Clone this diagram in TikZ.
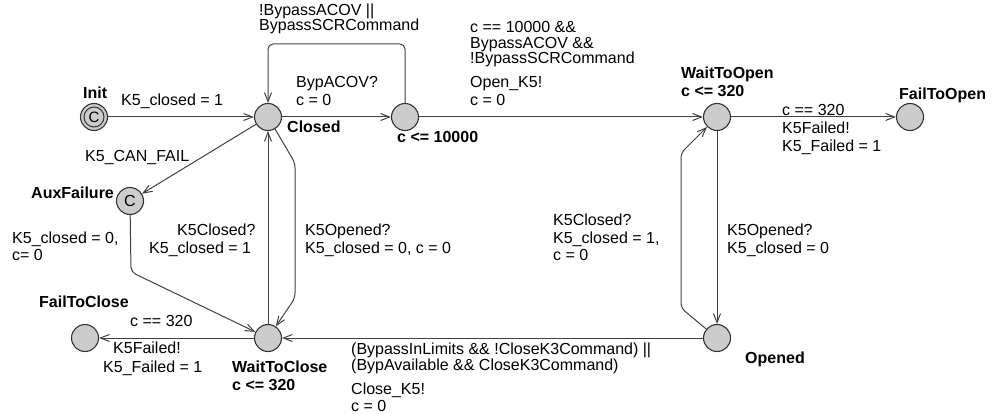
\documentclass[tikz,border=0pt]{standalone}
\usepackage{fontspec}
\setmainfont{Liberation Sans}
\usetikzlibrary{arrows.meta}
\begin{document}
\begin{tikzpicture}[x=1pt,y=-1pt,
  st/.style={circle,draw=black!80,fill=black!20,line width=1.1pt,minimum size=27pt,inner sep=0pt},
  ring/.style={circle,draw=black!80,line width=1pt,minimum size=20pt,inner sep=0pt},
  edge/.style={draw=black!75,line width=1pt,-{Straight Barb[length=9pt,width=7pt]},rounded corners=5pt},
  lbl/.style={anchor=base west,inner sep=0pt,font=\fontsize{16}{15}\selectfont},
  nm/.style={anchor=base west,inner sep=0pt,font=\fontsize{16}{15}\selectfont\bfseries}]
\useasboundingbox (0,0) rectangle (992,414);

% locations
\node[st] (Init) at (94,117) {};
\node[ring,font=\fontsize{15}{15}\selectfont] (InitIn) at (Init) {C};
\node[st] (Closed) at (268,117) {};
\node[st] (Br) at (405,117) {};
\node[st] (WTO) at (717,117) {};
\node[st] (FTO) at (910,117) {};
\node[st,font=\fontsize{16}{16}\selectfont] (Aux) at (130,201) {C};
\node[st] (WTC) at (268,338) {};
\node[st] (FTC) at (85,338) {};
\node[st] (Opened) at (717,338) {};

% bend points
\coordinate (lr) at (405,44);
\coordinate (ll) at (268,44);
\coordinate (c1) at (295,163);
\coordinate (c2) at (295,298);
\coordinate (a1) at (131,272);
\coordinate (o1) at (681,308);
\coordinate (o2) at (681,153);

% edges
\draw[edge] (Init) -- (Closed);
\draw[edge] (Closed) -- (Br);
\draw[edge] (Br) -- (WTO);
\draw[edge] (WTO) -- (FTO);
\draw[edge] (Closed) -- (Aux);
\draw[edge] (Br) -- (lr) -- (ll) -- (Closed);
\draw[edge] (WTC) -- (Closed);
\draw[edge] (Closed) -- (c1) -- (c2) -- (WTC);
\draw[edge] (Aux) -- (a1) -- (WTC);
\draw[edge] (WTC) -- (FTC);
\draw[edge] (Opened) -- (WTC);
\draw[edge] (WTO) -- (Opened);
\draw[edge] (Opened) -- (o1) -- (o2) -- (WTO);

% location names and invariants
\node[nm] (nInit) at (83,99) {Init};
\node[nm] (nClosed) at (287,133) {Closed};
\node[nm] (nBr) at (397,143) {c <= 10000};
\node[nm] (nWTO) at (681,79) {WaitToOpen};
\node[nm] (iWTO) at (681,97) {c <= 320};
\node[nm] (nFTO) at (899,100) {FailToOpen};
\node[nm] (nAux) at (31,198) {AuxFailure};
\node[nm] (nFTC) at (39,307) {FailToClose};
\node[nm] (nWTC) at (232,372) {WaitToClose};
\node[nm] (iWTC) at (232,390) {c <= 320};
\node[nm] (nOpened) at (745,363) {Opened};

% edge labels
\node[lbl] (l1) at (121,106) {K5\_closed = 1};
\node[lbl] (l2) at (259,16) {!BypassACOV ||};
\node[lbl] (l3) at (259,31) {BypassSCRCommand};
\node[lbl] (l4) at (296,88) {BypACOV?};
\node[lbl] (l5) at (296,106) {c = 0};
\node[lbl] (l6) at (470,33) {c == 10000 \&\&};
\node[lbl] (l7) at (470,48.5) {BypassACOV \&\&};
\node[lbl] (l8) at (470,64) {!BypassSCRCommand};
\node[lbl] (l9) at (470,88) {Open\_K5!};
\node[lbl] (l10) at (470,106) {c = 0};
\node[lbl] (l11) at (782,116) {c == 320};
\node[lbl] (l12) at (782,134) {K5Failed!};
\node[lbl] (l13) at (782,152) {K5\_Failed = 1};
\node[lbl] (l14) at (85,161) {K5\_CAN\_FAIL};
\node[lbl] (l15) at (12,243) {K5\_closed = 0,};
\node[lbl] (l16) at (12,260) {c= 0};
\node[lbl] (l17) at (177,235) {K5Closed?};
\node[lbl] (l18) at (149,253) {K5\_closed = 1};
\node[lbl] (l19) at (305,235) {K5Opened?};
\node[lbl] (l20) at (305,253) {K5\_closed = 0, c = 0};
\node[lbl] (l21) at (553,225) {K5Closed?};
\node[lbl] (l22) at (553,243) {K5\_closed = 1,};
\node[lbl] (l23) at (553,260) {c = 0};
\node[lbl] (l24) at (727,235) {K5Opened?};
\node[lbl] (l25) at (727,253) {K5\_closed = 0};
\node[lbl] (l26) at (130,326) {c == 320};
\node[lbl] (l27) at (113,353) {K5Failed!};
\node[lbl] (l28) at (103,372) {K5\_Failed = 1};
\node[lbl] (l29) at (351,354) {(BypassInLimits \&\& !CloseK3Command) ||};
\node[lbl] (l30) at (351,370) {(BypAvailable \&\& CloseK3Command)};
\node[lbl] (l31) at (351,394) {Close\_K5!};
\node[lbl] (l32) at (351,411) {c = 0};
\end{tikzpicture}
\end{document}
